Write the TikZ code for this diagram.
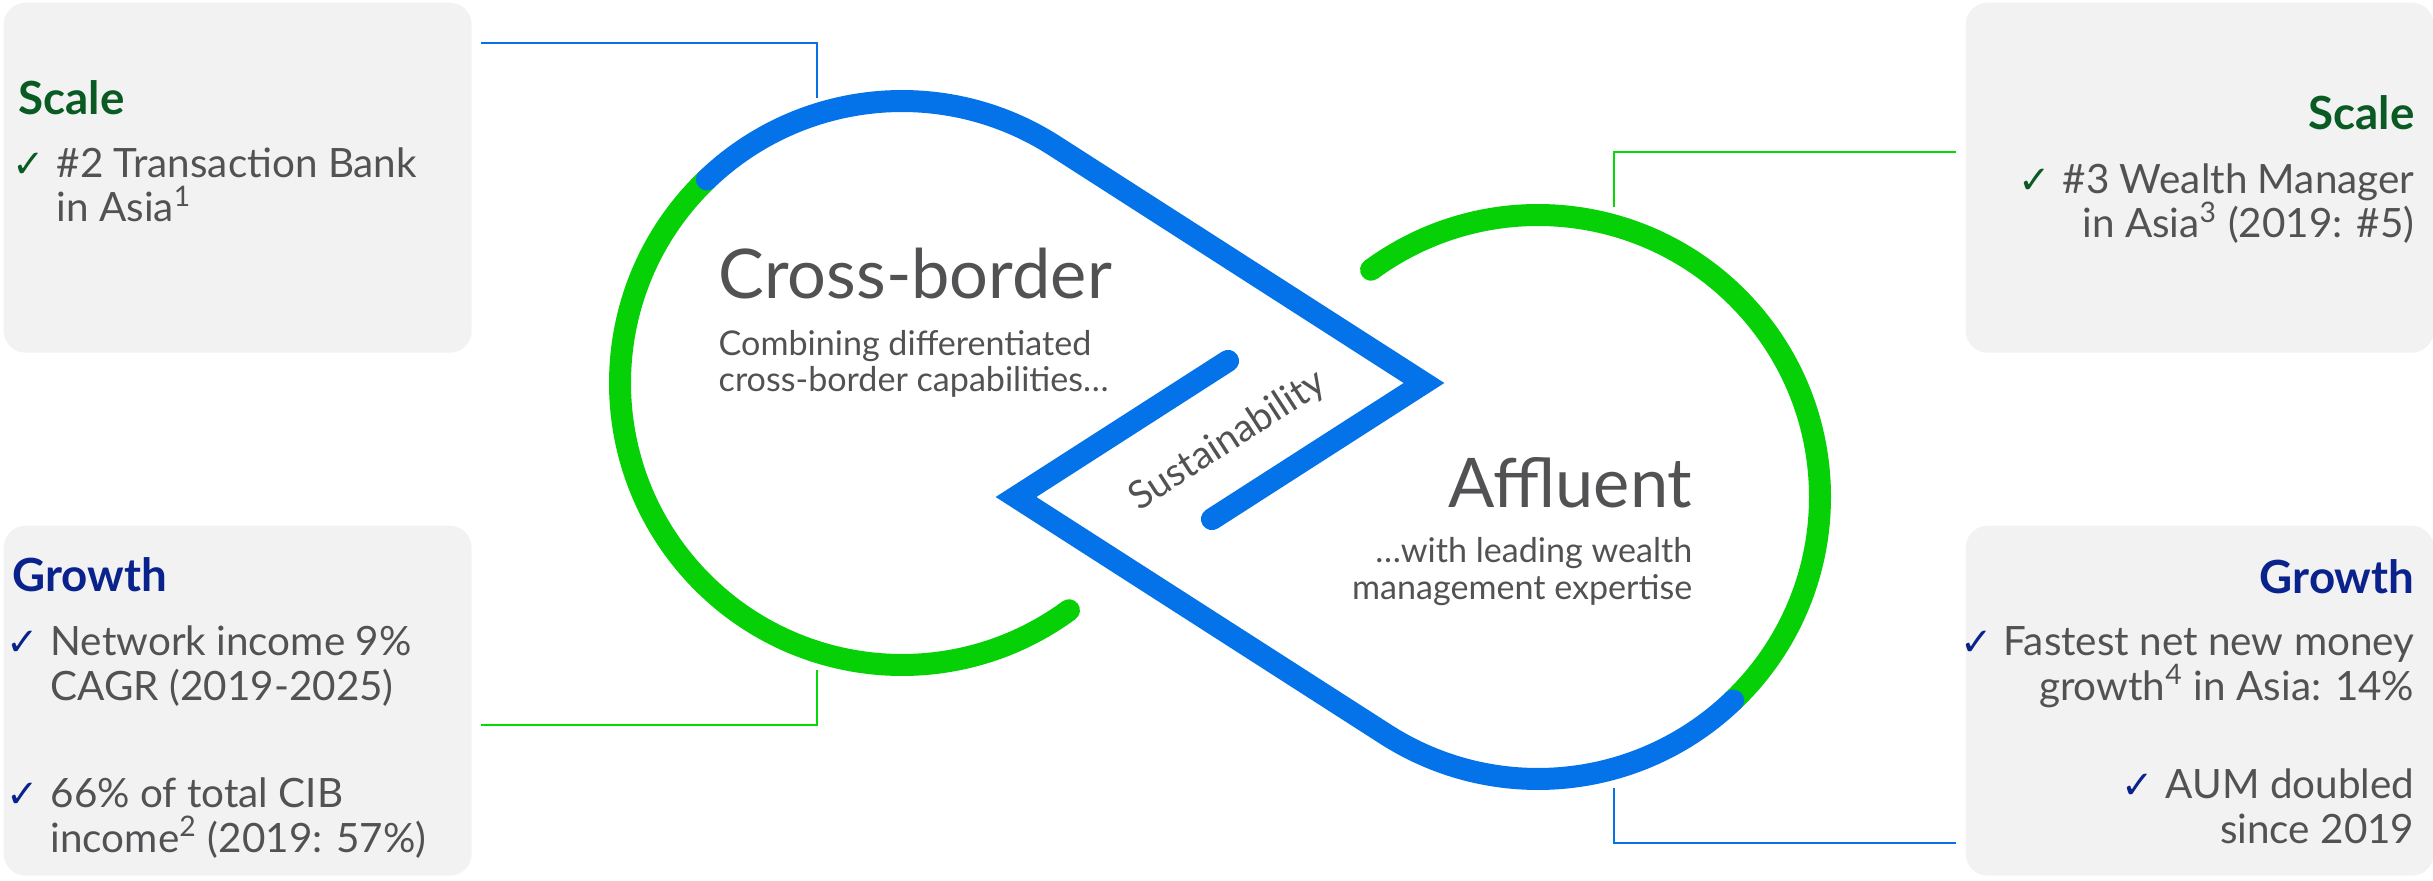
\documentclass[tikz,border=0pt]{standalone}
\usepackage{fontspec}
\setmainfont{Lato}
\newfontfamily\tickfont{DejaVu Sans}
\usetikzlibrary{calc}

\definecolor{scblue}{RGB}{4,115,234}
\definecolor{scgreen}{RGB}{6,208,6}
\definecolor{darkgreen}{RGB}{10,90,35}
\definecolor{darkblue}{RGB}{10,35,140}
\definecolor{textgray}{RGB}{82,82,84}
\definecolor{panelgray}{RGB}{242,242,242}

\tikzset{
	panel/.style={fill=panelgray, rounded corners=2.2mm, minimum width=4.68cm, minimum height=3.5cm, inner sep=0pt, anchor=north west},
	loopblue/.style={draw=scblue, line width=2.2mm, line cap=round, line join=miter},
	loopgreen/.style={draw=scgreen, line width=2.2mm, line cap=round},
	pinline/.style={line width=0.6pt},
	paneltitle/.style={font=\fontsize{13}{15}\selectfont\bfseries, inner sep=0pt},
	paneltext/.style={font=\fontsize{11.5}{12.8}\selectfont, text=textgray, inner sep=0pt},
	ticksign/.style={font=\tickfont\fontsize{11}{12}\selectfont, inner sep=0pt, anchor=base east},
	bigtitle/.style={font=\fontsize{19.5}{22}\selectfont, text=textgray, inner sep=0pt},
	subtitle/.style={font=\fontsize{9.7}{10.5}\selectfont, text=textgray, inner sep=0pt}
}

\begin{document}
\begin{tikzpicture}
	\useasboundingbox (0,0) rectangle (24.33,8.80);

	% panels
	\node[panel] (tlbox) at (0.03,8.78) {};
	\node[panel] (blbox) at (0.03,3.55) {};
	\node[panel] (trbox) at (19.65,8.78) {};
	\node[panel] (brbox) at (19.65,3.55) {};

	% the two loops
	\coordinate (lc) at (9.02,4.97);
	\coordinate (rc) at (15.38,3.83);
	\coordinate (rtip) at (14.24,4.97);
	\coordinate (ltip) at (10.16,3.83);

	\draw[loopgreen] ($(lc)+(133.8:2.82)$) arc[start angle=133.8, end angle=306.3, radius=2.82];
	\draw[loopgreen] ($(rc)+(313.8:2.82)$) arc[start angle=313.8, end angle=486.3, radius=2.82];
	\draw[loopblue] ($(lc)+(133.8:2.82)$) arc[start angle=133.8, end angle=57.3, radius=2.82] -- (rtip) -- ++(212.7:2.52);
	\draw[loopblue] ($(rc)+(313.8:2.82)$) arc[start angle=313.8, end angle=237.3, radius=2.82] -- (ltip) -- ++(32.7:2.52);

	% pins from the panels to the loops
	\coordinate (tlpin) at (8.17,7.82);
	\coordinate (blpin) at (8.17,2.10);
	\coordinate (trpin) at (16.14,6.73);
	\coordinate (brpin) at (16.14,0.92);
	\draw[pinline, scblue] ([xshift=0.9mm,yshift=-4.1mm]tlbox.north east) -| (tlpin);
	\draw[pinline, scgreen!80!green] ([xshift=0.9mm,yshift=-20mm]blbox.north east) -| (blpin);
	\draw[pinline, scgreen!80!green] ([xshift=-0.9mm,yshift=-15mm]trbox.north west) -| (trpin);
	\draw[pinline, scblue] ([xshift=-0.9mm,yshift=-31.8mm]brbox.north west) -| (brpin);

	% centre texts (base = last line)
	\node[bigtitle, anchor=base west] (crossb) at (7.18,5.81) {Cross-border};
	\node[subtitle, anchor=base west, align=left] (crossbtxt) at (7.18,4.88) {Combining differentiated\\cross-border capabilities…};
	\node[bigtitle, anchor=base east] (affl) at (16.93,3.73) {Affluent};
	\node[subtitle, anchor=base east, align=right] (affltxt) at (16.93,2.81) {…with leading wealth\\management expertise};
	\node[subtitle, font=\fontsize{11}{13}\selectfont, rotate=33] (sust) at (12.28,4.39) {Sustainability};

	% left panels
	\node[paneltitle, text=darkgreen, anchor=base west] (tltitle) at (0.18,7.65) {Scale};
	\node[paneltext, anchor=base west, align=left] (tlitem) at (0.56,6.58) {\#2 Transaction Bank\\in Asia\textsuperscript{1}};
	\node[ticksign, text=darkgreen] at ([xshift=-1mm,yshift=12.8pt]tlitem.base west) {✓};

	\node[paneltitle, text=darkblue, anchor=base west] (bltitle) at (0.12,2.88) {Growth};
	\node[paneltext, anchor=base west, align=left] (blitema) at (0.50,1.80) {Network income 9\%\\CAGR (2019-2025)};
	\node[ticksign, text=darkblue] at ([xshift=-1mm,yshift=12.8pt]blitema.base west) {✓};
	\node[paneltext, anchor=base west, align=left] (blitemb) at (0.50,0.28) {66\% of total CIB\\income\textsuperscript{2} (2019: 57\%)};
	\node[ticksign, text=darkblue] at ([xshift=-1mm,yshift=12.8pt]blitemb.base west) {✓};

	% right panels
	\node[paneltitle, text=darkgreen, anchor=base east] (trtitle) at (24.15,7.50) {Scale};
	\node[paneltext, anchor=base east, align=right] (tritem) at (24.15,6.42) {\#3 Wealth Manager\\in Asia\textsuperscript{3} (2019: \#5)};
	\node[ticksign, text=darkgreen] at ([xshift=-1mm,yshift=12.8pt]tritem.base west) {✓};

	\node[paneltitle, text=darkblue, anchor=base east] (brtitle) at (24.15,2.87) {Growth};
	\node[paneltext, anchor=base east, align=right] (britema) at (24.15,1.80) {Fastest net new money\\growth\textsuperscript{4} in Asia: 14\%};
	\node[ticksign, text=darkblue] at ([xshift=-1mm,yshift=12.8pt]britema.base west) {✓};
	\node[paneltext, anchor=base east, align=right] (britemb) at (24.15,0.37) {AUM doubled\\since 2019};
	\node[ticksign, text=darkblue] at ([xshift=-1mm,yshift=12.8pt]britemb.base west) {✓};
\end{tikzpicture}
\end{document}
